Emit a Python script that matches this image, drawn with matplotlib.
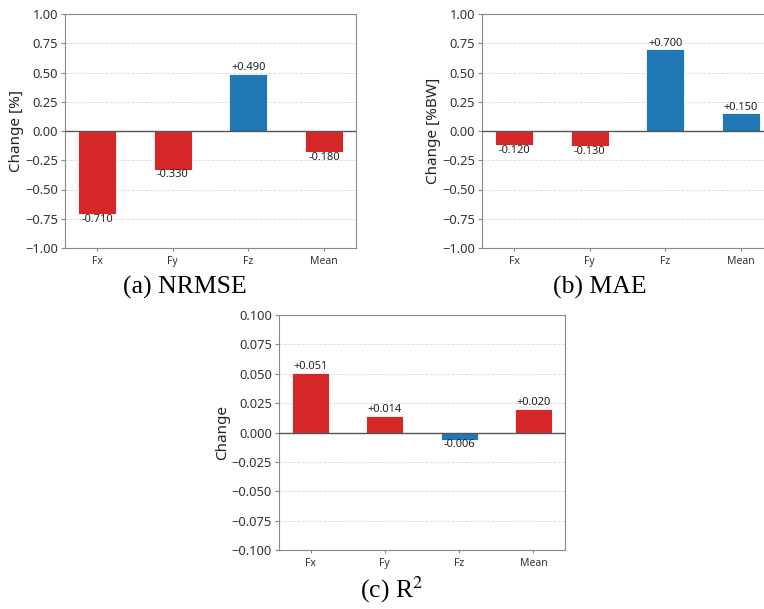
import matplotlib
matplotlib.use("Agg")
import matplotlib.pyplot as plt

plt.rcParams['font.family'] = ['Noto Sans', 'DejaVu Sans']
plt.rcParams['mathtext.fontset'] = 'stix'

# data
categories = ["Fx", "Fy", "Fz", "Mean"]
nrmse_change = [-0.710, -0.330, 0.490, -0.180]
mae_change = [-0.120, -0.130, 0.700, 0.150]
r2_change = [0.051, 0.014, -0.006, 0.020]

red = "#d62728"
blue = "#1f77b4"


def drawPanel(ax, values, ylabel, ylim, yticks, tickfmt, goodSign, offset):
    colors = [red if v * goodSign > 0 else blue for v in values]
    ax.bar(categories, values, width=0.5, color=colors, edgecolor="white", linewidth=0.6)
    ax.axhline(0, color="#555555", linewidth=1.0, zorder=3)
    ax.set_ylim(*ylim)
    ax.set_yticks(yticks)
    ax.set_yticklabels([tickfmt.format(t).replace("-", "\u2212") for t in yticks])
    ax.yaxis.grid(True, linestyle="--", color="#dddddd", linewidth=0.6)
    ax.set_axisbelow(True)
    for s in ax.spines.values():
        s.set_color("#888888")
    ax.tick_params(axis="y", labelsize=9.3, colors="#333333", color="#888888", length=3, pad=2)
    ax.tick_params(axis="x", labelsize=7.5, colors="#333333", color="#888888", length=2)
    ax.set_ylabel(ylabel, fontsize=11, color="#222222", labelpad=1)
    for i, v in enumerate(values):
        txt = ("+" if v > 0 else "") + "{:.3f}".format(v)
        if v >= 0:
            ax.text(i, v + offset, txt, ha="center", va="bottom", fontsize=8, color="#222222")
        else:
            ax.text(i, v + offset * 0.3, txt, ha="center", va="top", fontsize=8, color="#222222")


fig = plt.figure(figsize=(7.64, 6.09), dpi=100)

axA = fig.add_axes([65 / 764, 1 - 248 / 609, 291 / 764, 234 / 609])
axB = fig.add_axes([482 / 764, 1 - 248 / 609, 291 / 764, 234 / 609])
axC = fig.add_axes([279 / 764, 1 - 550 / 609, 286 / 764, 235 / 609])

ticks1 = [-1.0, -0.75, -0.5, -0.25, 0.0, 0.25, 0.5, 0.75, 1.0]
ticks2 = [-0.1, -0.075, -0.05, -0.025, 0.0, 0.025, 0.05, 0.075, 0.1]

drawPanel(axA, nrmse_change, "Change [%]", (-1, 1), ticks1, "{:.2f}", -1, 0.005)
drawPanel(axB, mae_change, "Change [%BW]", (-1, 1), ticks1, "{:.2f}", -1, 0.005)
drawPanel(axC, r2_change, "Change", (-0.1, 0.1), ticks2, "{:.3f}", 1, 0.0005)

capFont = dict(family="Liberation Serif", fontsize=18.5, ha="center", va="center")
fig.text(185 / 764, 1 - 287 / 609, "(a) NRMSE", **capFont)
fig.text(600 / 764, 1 - 287 / 609, "(b) MAE", **capFont)
fig.text(392 / 764, 1 - 590 / 609, "(c) R$^{2}$", **capFont)

fig.savefig("out.png", dpi=100)
